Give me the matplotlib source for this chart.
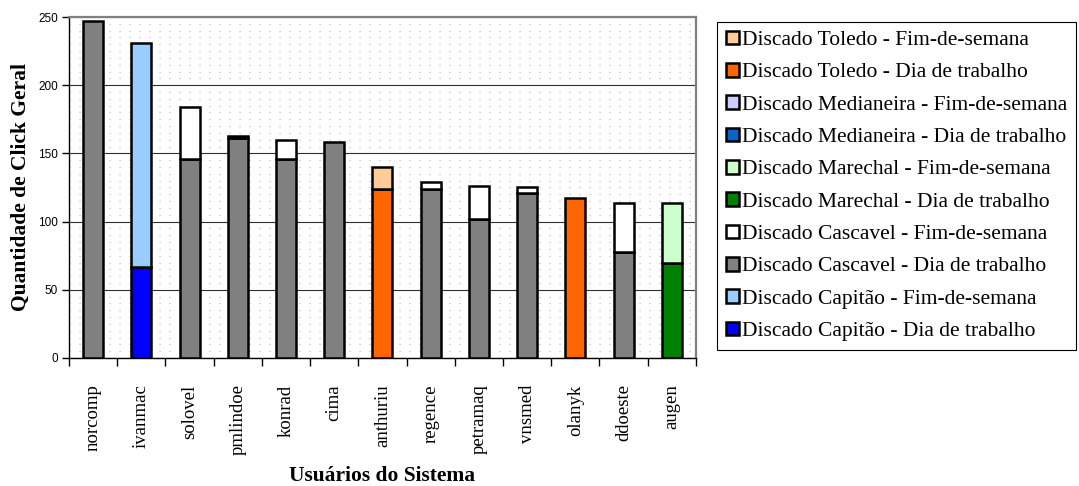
import numpy as np
import matplotlib
matplotlib.use("Agg")
import matplotlib.pyplot as plt
from matplotlib.ticker import MultipleLocator, FixedLocator, NullFormatter

usuarios = ["norcomp", "ivanmac", "solovel", "pmlindoe", "konrad", "cima",
            "anthuriu", "regence", "petramaq", "vnsmed", "olanyk", "ddoeste", "augen"]

# Clicks per user, split by dial-up site and type of day (bottom to top of each bar)
capitao_dia      = [0, 67, 0, 0, 0, 0, 0, 0, 0, 0, 0, 0, 0]
capitao_fim      = [0, 164, 0, 0, 0, 0, 0, 0, 0, 0, 0, 0, 0]
cascavel_dia     = [247, 0, 146, 161, 146, 158, 0, 124, 102, 121, 0, 78, 0]
cascavel_fim     = [0, 0, 38, 2, 14, 0, 0, 5, 24, 4, 0, 36, 0]
marechal_dia     = [0, 0, 0, 0, 0, 0, 0, 0, 0, 0, 0, 0, 70]
marechal_fim     = [0, 0, 0, 0, 0, 0, 0, 0, 0, 0, 0, 0, 44]
medianeira_dia   = [0, 0, 0, 0, 0, 0, 0, 0, 0, 0, 0, 0, 0]
medianeira_fim   = [0, 0, 0, 0, 0, 0, 0, 0, 0, 0, 0, 0, 0]
toledo_dia       = [0, 0, 0, 0, 0, 0, 124, 0, 0, 0, 117, 0, 0]
toledo_fim       = [0, 0, 0, 0, 0, 0, 16, 0, 0, 0, 0, 0, 0]

series = [
    ("Discado Capitão - Dia de trabalho", capitao_dia, "#0000FF"),
    ("Discado Capitão - Fim-de-semana", capitao_fim, "#99CCFF"),
    ("Discado Cascavel - Dia de trabalho", cascavel_dia, "#808080"),
    ("Discado Cascavel - Fim-de-semana", cascavel_fim, "#FFFFFF"),
    ("Discado Marechal - Dia de trabalho", marechal_dia, "#008000"),
    ("Discado Marechal - Fim-de-semana", marechal_fim, "#CCFFCC"),
    ("Discado Medianeira - Dia de trabalho", medianeira_dia, "#0066CC"),
    ("Discado Medianeira - Fim-de-semana", medianeira_fim, "#CCCCFF"),
    ("Discado Toledo - Dia de trabalho", toledo_dia, "#FF6600"),
    ("Discado Toledo - Fim-de-semana", toledo_fim, "#FFCC99"),
]

serif = ["Liberation Serif", "DejaVu Serif"]
sans = ["Liberation Sans", "DejaVu Sans"]

fig = plt.figure(figsize=(10.79, 4.86), dpi=100)
ax = fig.add_axes([0.0639, 0.2634, 0.645 - 0.0639, 0.965 - 0.2634])

x = np.arange(len(usuarios))
bottom = np.zeros(len(usuarios))
handles = []
for label, vals, color in series:
    vals = np.asarray(vals, dtype=float)
    mask = vals > 0
    ax.bar(x[mask], vals[mask], bottom=bottom[mask], width=0.415,
           color=color, edgecolor="black", linewidth=1.8, zorder=3)
    h = plt.Rectangle((0, 0), 1, 1, facecolor=color, edgecolor="black", linewidth=1.8)
    handles.append((h, label))
    bottom += vals

ax.set_xlim(-0.5, len(usuarios) - 0.5)
ax.set_ylim(0, 250)

# Dotted background pattern and major gridlines
ax.yaxis.set_major_locator(MultipleLocator(50))
ax.yaxis.set_minor_locator(MultipleLocator(5))
ax.grid(which="minor", axis="y", color="#bdbdbd", linewidth=0.9,
        linestyle=(0, (0.9, 7.1)), zorder=0)
ax.grid(which="major", axis="y", color="#303030", linewidth=0.8, zorder=1)
ax.set_axisbelow(True)

# Category ticks sit between bars; labels at bar centres
ax.xaxis.set_major_locator(FixedLocator(np.arange(-0.5, len(usuarios), 1.0)))
ax.xaxis.set_major_formatter(NullFormatter())
ax.xaxis.set_minor_locator(FixedLocator(x))
ax.set_xticklabels(usuarios, minor=True, rotation=90, fontsize=13.5,
                   family=serif)
ax.tick_params(axis="x", which="major", direction="out", length=6, width=1, color="black")
ax.tick_params(axis="x", which="minor", length=0, pad=19)
ax.tick_params(axis="y", which="major", direction="out", length=5, width=1,
               labelsize=8.5, pad=3)
ax.tick_params(axis="y", which="minor", length=0)
for lab in ax.get_yticklabels():
    lab.set_family(sans)

for side in ("left", "bottom"):
    ax.spines[side].set_color("black")
    ax.spines[side].set_linewidth(1.0)
for side in ("top", "right"):
    ax.spines[side].set_color("#808080")
    ax.spines[side].set_linewidth(1.6)

ax.set_ylabel("Quantidade de Click Geral", fontsize=15.5, fontweight="bold",
              family=serif)
ax.yaxis.set_label_coords(-0.06, 0.5)
ax.set_xlabel("Usuários do Sistema", fontsize=15.5, fontweight="bold",
              family=serif)
ax.xaxis.set_label_coords(0.5, -0.318)

hs = [h for h, _ in handles][::-1]
ls = [l for _, l in handles][::-1]
leg = fig.legend(hs, ls, loc="upper left", bbox_to_anchor=(717 / 1079, 1 - 22 / 486),
                 bbox_transform=fig.transFigure, frameon=True, fancybox=False,
                 edgecolor="black", framealpha=1, borderpad=0.4,
                 labelspacing=0.6, handlelength=0.6, handleheight=0.6,
                 handletextpad=0.15, borderaxespad=0,
                 prop={"family": serif, "size": 15.5})
leg.get_frame().set_linewidth(0.8)

fig.savefig("out.png", dpi=100)
